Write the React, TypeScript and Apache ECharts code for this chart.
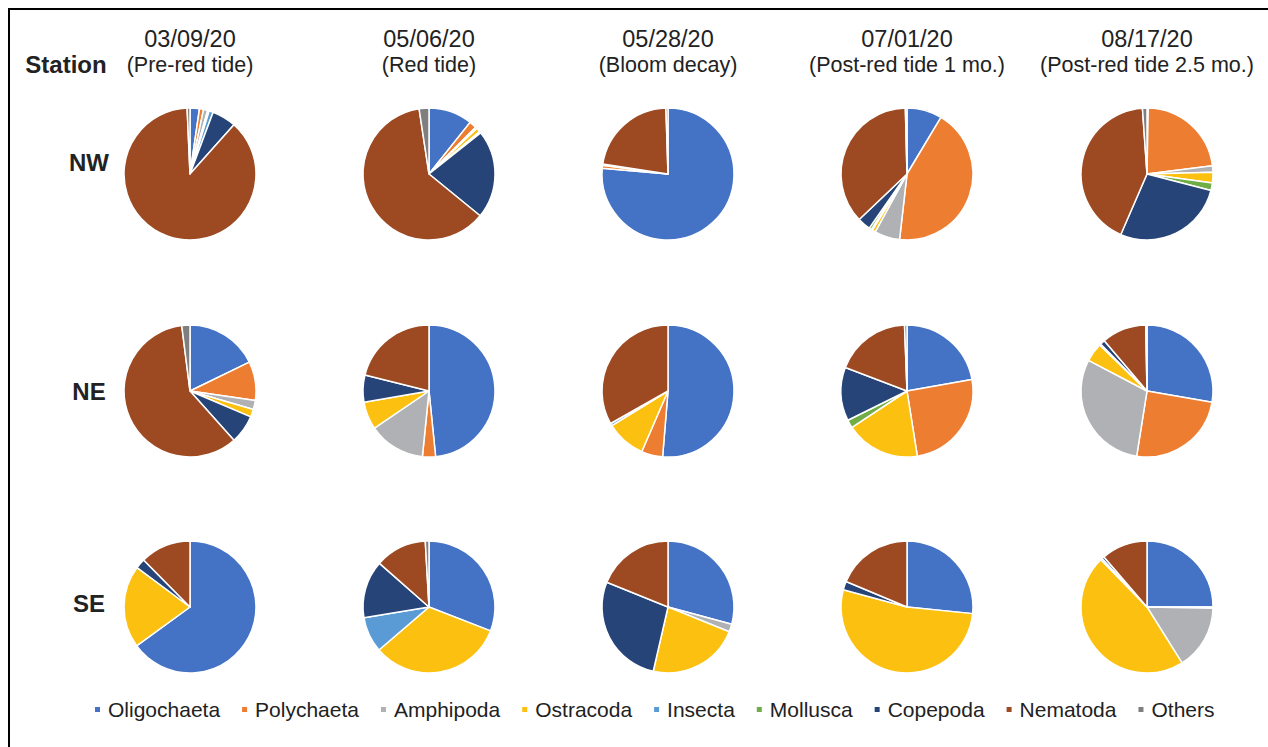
import React, { useEffect, useRef } from "react";
import * as echarts from "echarts";

const categories = ["Oligochaeta", "Polychaeta", "Amphipoda", "Ostracoda", "Insecta", "Mollusca", "Copepoda", "Nematoda", "Others"];
const colors = ["#4472C4", "#ED7D31", "#B0B1B4", "#FCC010", "#5B9BD5", "#70AD47", "#264478", "#9D4922", "#7F7F7F"];

const dates = ["03/09/20", "05/06/20", "05/28/20", "07/01/20", "08/17/20"];
const phases = ["(Pre-red tide)", "(Red tide)", "(Bloom decay)", "(Post-red tide 1 mo.)", "(Post-red tide 2.5 mo.)"];
const stations = ["NW", "NE", "SE"];

// values in % per category order above
const nw = [
  [2.3, 1.0, 1.0, 0.4, 1.0, 0, 5.9, 87.7, 0.7],
  [10.7, 1.8, 0.4, 1.0, 0.4, 0, 21.6, 61.7, 2.4],
  [76.4, 0.7, 0.3, 0, 0, 0, 0, 22.1, 0.5],
  [8.6, 43.2, 6.2, 0.8, 0.3, 0.6, 3.2, 36.7, 0.4],
  [0.3, 22.7, 1.6, 2.6, 0, 1.8, 27.5, 42.4, 1.1],
];
const ne = [
  [17.8, 9.5, 2.2, 1.9, 0, 0, 7.0, 59.6, 2.0],
  [48.4, 3.2, 13.9, 6.8, 0, 0, 6.6, 21.1, 0],
  [51.3, 5.2, 0, 9.7, 0.6, 0, 0, 33.2, 0],
  [22.2, 25.3, 0, 18.2, 0, 2.0, 13.1, 18.6, 0.6],
  [27.7, 24.8, 30.2, 4.6, 0.3, 0, 1.2, 10.9, 0.3],
];
const se = [
  [65.0, 0, 0, 20.2, 0, 0, 2.4, 12.4, 0],
  [30.9, 0, 0, 32.8, 8.7, 0, 14.1, 12.6, 0.9],
  [29.2, 0, 1.9, 22.5, 0, 0, 27.5, 18.9, 0],
  [26.6, 0, 0, 52.6, 0, 0, 2.1, 18.7, 0],
  [25.0, 0.3, 15.8, 46.6, 0.4, 0, 0.6, 11.3, 0],
];
const rows = [nw, ne, se];

const colX = [190, 429, 668, 907, 1147];
const rowY = [174, 391, 607];
const FONT = "Liberation Sans, Arial, sans-serif";

export default function App() {
  const ref = useRef<HTMLDivElement>(null);
  useEffect(() => {
    if (!ref.current) return;
    const chart = echarts.init(ref.current, undefined, { renderer: "svg" });
    const series: any[] = [];
    rows.forEach((row, r) => {
      row.forEach((vals, c) => {
        const data = categories
          .map((name, i) => ({ name, value: vals[i], itemStyle: { color: colors[i] } }))
          .filter((d) => d.value > 0);
        series.push({
          type: "pie",
          name: stations[r] + " " + dates[c],
          center: [colX[c], rowY[r]],
          radius: 66,
          startAngle: 90,
          clockwise: true,
          label: { show: false },
          labelLine: { show: false },
          emphasis: { disabled: true },
          itemStyle: { borderColor: "#ffffff", borderWidth: 1.5 },
          data,
        });
      });
    });
    const graphics: any[] = [];
    dates.forEach((d, c) => {
      graphics.push({
        type: "text",
        x: colX[c],
        y: 39,
        style: { text: d, fontSize: 23.5, fontFamily: FONT, fill: "#222", align: "center", verticalAlign: "middle" },
      });
      graphics.push({
        type: "text",
        x: colX[c],
        y: 65,
        style: { text: phases[c], fontSize: 21.5, fontFamily: FONT, fill: "#222", align: "center", verticalAlign: "middle" },
      });
    });
    graphics.push({
      type: "text",
      x: 66,
      y: 64,
      style: { text: "Station", fontSize: 24, fontWeight: "bold", fontFamily: FONT, fill: "#222", align: "center", verticalAlign: "middle" },
    });
    stations.forEach((s, r) => {
      graphics.push({
        type: "text",
        x: 89,
        y: [162, 391, 603][r],
        style: { text: s, fontSize: 24, fontWeight: "bold", fontFamily: FONT, fill: "#222", align: "center", verticalAlign: "middle" },
      });
    });
    graphics.push({ type: "line", shape: { x1: 8, y1: 9, x2: 1268, y2: 9 }, style: { stroke: "#000", lineWidth: 2 } });
    graphics.push({ type: "line", shape: { x1: 9, y1: 8, x2: 9, y2: 747 }, style: { stroke: "#000", lineWidth: 2 } });

    chart.setOption({
      animation: false,
      color: colors,
      legend: {
        data: categories.map((name, i) => ({ name, itemStyle: { color: colors[i] } })),
        left: 88,
        top: 694,
        icon: "rect",
        itemWidth: 7,
        itemHeight: 7,
        itemGap: 20,
        selectedMode: false,
        textStyle: { fontSize: 21, fontFamily: FONT, color: "#222", padding: [0, 0, 0, 2] },
      },
      graphic: graphics,
      series,
    });
    return () => chart.dispose();
  }, []);
  return (
    <div
      ref={ref}
      style={{ position: "fixed", left: 0, top: 0, width: 1268, height: 747, background: "#fff" }}
    />
  );
}
